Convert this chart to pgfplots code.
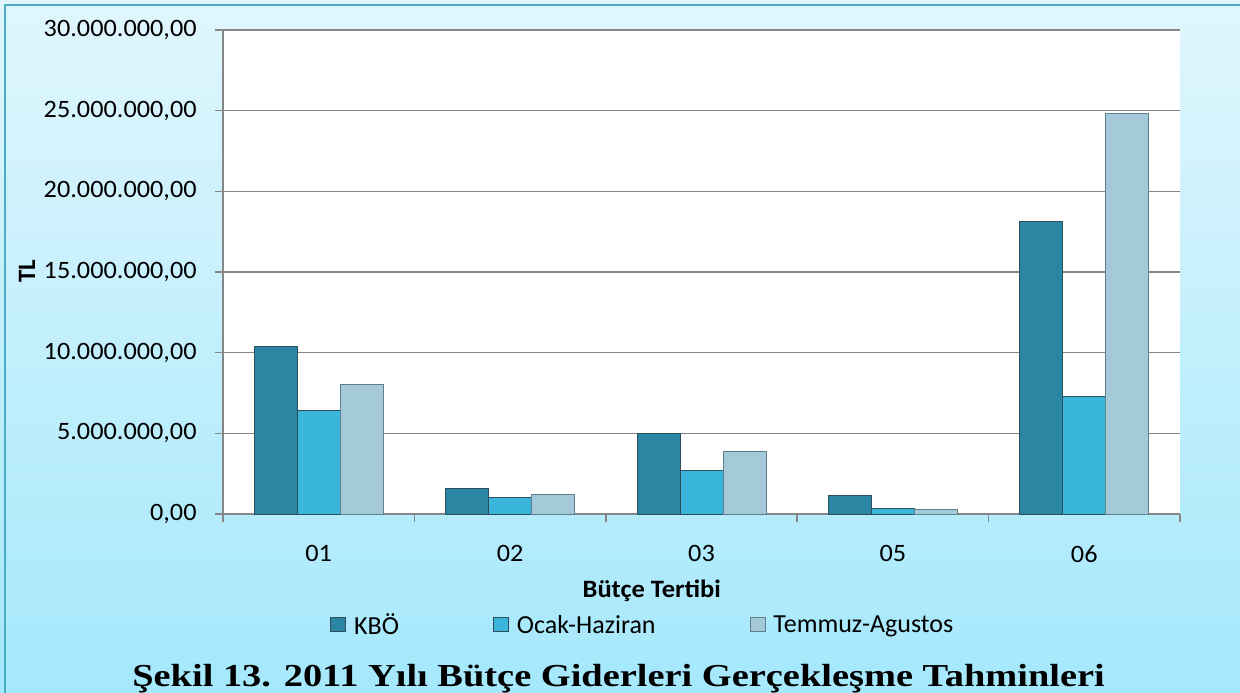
\documentclass[border=0pt]{standalone}
\usepackage{fontspec}
\setmainfont{Carlito}
\newfontfamily\titlefont{Liberation Serif}
\usepackage{graphicx}
\usepackage{pgfplots}
\pgfplotsset{compat=1.18}
\definecolor{bgtop}{RGB}{224,246,253}
\definecolor{bgbot}{RGB}{165,232,252}
\definecolor{framec}{RGB}{75,172,198}
\definecolor{kbo}{RGB}{42,134,162}
\definecolor{oc}{RGB}{58,182,218}
\definecolor{tm}{RGB}{164,202,217}
\definecolor{gridc}{RGB}{134,134,134}
\definecolor{edgec}{RGB}{45,78,90}
\definecolor{edgetm}{RGB}{95,125,138}

\begin{document}
\begin{tikzpicture}[x=1pt,y=1pt]
\useasboundingbox (0,0) rectangle (1240,-693);
\shade[top color=bgtop,bottom color=bgbot] (0,0) rectangle (1240,-693);
\draw[framec,line width=2.5pt] (5,-693) -- (5,-5) -- (1240,-5);
\begin{axis}[
  at={(223pt,-514pt)}, anchor=south west, scale only axis,
  width=957pt, height=484pt,
  xmin=-0.5, xmax=4.5, ymin=0, ymax=30000000,
  axis background/.style={fill=white},
  axis x line*=bottom, axis y line*=left,
  axis line style={gridc,line width=1.5pt,-},
  tick align=outside, major tick length=8pt,
  tick style={gridc,line width=1.5pt},
  ymajorgrids, grid style={gridc,line width=1.5pt},
  scaled y ticks=false,
  ytick={0,5000000,10000000,15000000,20000000,25000000,30000000},
  yticklabels={{0,00},{5.000.000,00},{10.000.000,00},{15.000.000,00},{20.000.000,00},{25.000.000,00},{30.000.000,00}},
  xtick={-0.5,0.5,1.5,2.5,3.5,4.5}, xticklabels={},
  extra x ticks={0,1,2,3,4}, extra x tick labels={01,02,03,05,06},
  extra x tick style={major tick length=0pt},
  tick label style={font=\fontsize{25}{30}\selectfont, xscale=1.05},
  xticklabel style={yshift=-28pt},
  yticklabel style={xshift=-14pt},
  every axis x label/.style={at={(axis description cs:0.448,-0.1735)},anchor=base,font=\bfseries\fontsize{25}{30}\selectfont,xscale=1.06},
  every axis y label/.style={at={(axis description cs:-0.2048,0.502)},rotate=90,anchor=center,font=\bfseries\fontsize{25}{30}\selectfont},
  xlabel={Bütçe Tertibi},
  ylabel={TL},
  ybar=0pt, bar width=43pt,
  legend columns=3,
  legend style={draw=none, fill=none, inner sep=0pt,
    at={(axis description cs:0.112,-0.229)}, anchor=west,
    font=\fontsize{26}{30}\selectfont,
    /tikz/every odd column/.append style={column sep=6pt},
    /tikz/every even column/.append style={column sep=92pt}},
  legend image code/.code={\path[#1,line width=0.8pt] (0pt,-7pt) rectangle (15pt,7pt);},
]
\addplot[draw=edgec,line width=1pt,fill=kbo]
  coordinates {(0,10370000) (1,1550000) (2,5020000) (3,1140000) (4,18100000)};
\addplot[draw=edgec,line width=1pt,fill=oc]
  coordinates {(0,6390000) (1,1010000) (2,2670000) (3,330000) (4,7270000)};
\addplot[draw=edgetm,line width=1pt,fill=tm]
  coordinates {(0,8040000) (1,1200000) (2,3900000) (3,250000) (4,24800000)};
\legend{KBÖ,Ocak-Haziran,Temmuz-Agustos}
\end{axis}
\node[anchor=base] at (618.5,-686) {\scalebox{1.2}[1]{\titlefont\bfseries\fontsize{32}{38}\selectfont Şekil 13. 2011 Yılı Bütçe Giderleri Gerçekleşme Tahminleri}};
\end{tikzpicture}
\end{document}
